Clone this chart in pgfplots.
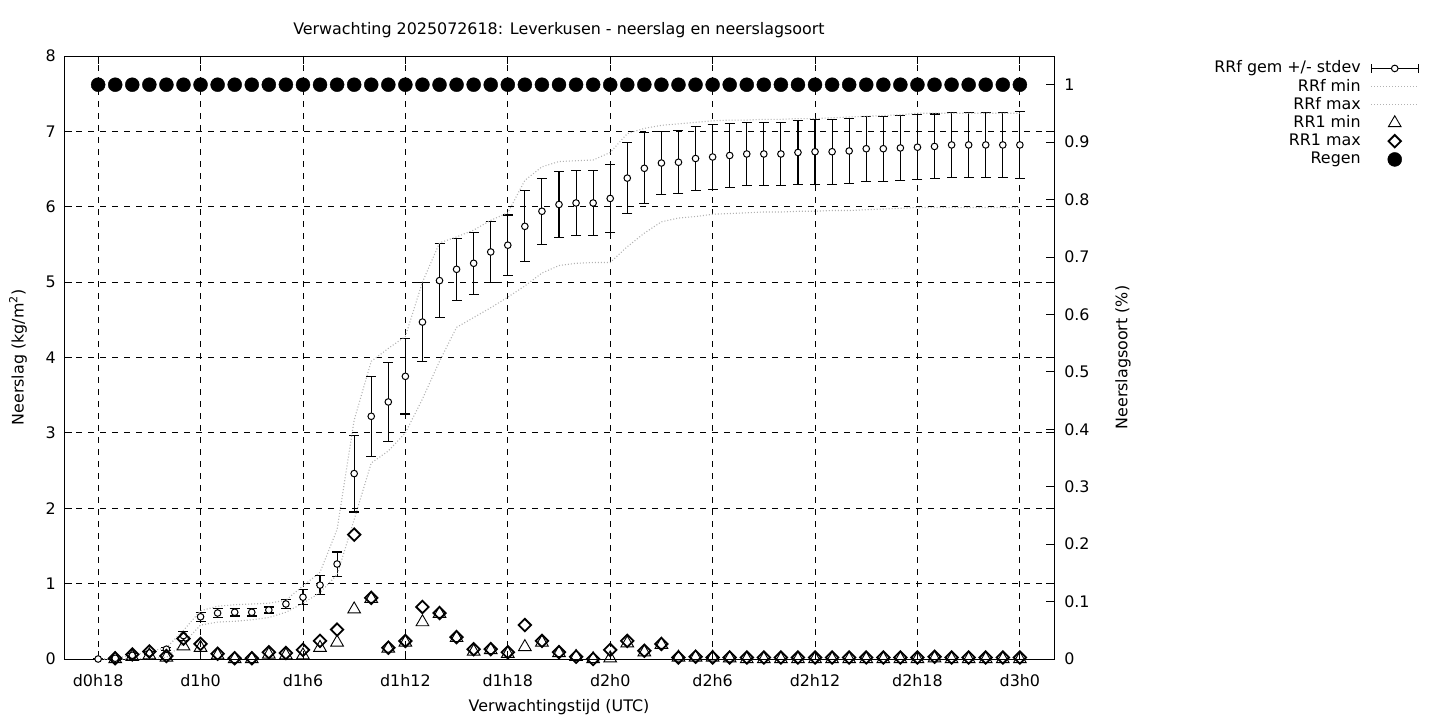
\documentclass[border=0pt]{standalone}
\usepackage{fontspec}
\setmainfont{DejaVu Sans}
\usepackage{pgfplots}
\usepackage{pgfplotstable}
\pgfplotsset{compat=1.18}

\pgfplotstableread{
h v e
0 0.00 0.00
1 0.01 0.01
2 0.05 0.02
3 0.08 0.02
4 0.13 0.02
5 0.31 0.06
6 0.56 0.06
7 0.61 0.06
8 0.62 0.05
9 0.62 0.05
10 0.65 0.04
11 0.73 0.06
12 0.82 0.10
13 0.98 0.13
14 1.26 0.16
15 2.46 0.51
16 3.22 0.53
17 3.41 0.52
18 3.75 0.50
19 4.47 0.52
20 5.02 0.49
21 5.17 0.41
22 5.25 0.41
23 5.40 0.41
24 5.49 0.40
25 5.74 0.47
26 5.94 0.44
27 6.03 0.44
28 6.05 0.43
29 6.05 0.43
30 6.11 0.45
31 6.38 0.47
32 6.51 0.47
33 6.58 0.42
34 6.59 0.42
35 6.64 0.42
36 6.66 0.43
37 6.68 0.42
38 6.70 0.42
39 6.70 0.42
40 6.70 0.42
41 6.72 0.43
42 6.73 0.43
43 6.73 0.43
44 6.74 0.43
45 6.77 0.43
46 6.77 0.43
47 6.78 0.43
48 6.79 0.43
49 6.80 0.43
50 6.82 0.43
51 6.82 0.43
52 6.82 0.43
53 6.82 0.43
54 6.82 0.44
}\meandata

\pgfplotstableread{
h lo hi
0 0 0
1 0 0.01
2 0 0.05
3 0.01 0.10
4 0.02 0.15
5 0.21 0.38
6 0.45 0.64
7 0.49 0.70
8 0.50 0.72
9 0.52 0.73
10 0.55 0.74
11 0.62 0.78
12 0.74 0.97
13 0.88 1.15
14 1.12 1.72
15 1.85 3.17
16 2.60 3.95
17 2.76 4.12
18 3.00 4.28
19 3.45 5.00
20 3.95 5.52
21 4.40 5.60
22 4.53 5.69
23 4.66 5.82
24 4.80 5.92
25 4.95 6.35
26 5.12 6.53
27 5.22 6.60
28 5.25 6.61
29 5.26 6.62
30 5.26 6.72
31 5.47 6.97
32 5.65 7.04
33 5.80 7.08
34 5.85 7.10
35 5.87 7.12
36 5.90 7.14
37 5.91 7.15
38 5.92 7.15
39 5.93 7.16
40 5.93 7.16
41 5.94 7.17
42 5.94 7.17
43 5.95 7.18
44 5.95 7.19
45 5.96 7.20
46 5.97 7.21
47 5.98 7.22
48 5.99 7.24
49 5.99 7.24
50 5.99 7.24
51 5.99 7.24
52 5.99 7.24
53 5.99 7.24
54 5.99 7.24
}\envdata

\pgfplotstableread{
h mn mx
1 0.00 0.01
2 0.03 0.06
3 0.05 0.10
4 0.02 0.04
5 0.17 0.27
6 0.15 0.20
7 0.05 0.07
8 0.00 0.01
9 0.00 0.01
10 0.06 0.09
11 0.05 0.08
12 0.05 0.12
13 0.15 0.24
14 0.22 0.39
15 0.66 1.65
16 0.80 0.81
17 0.14 0.15
18 0.22 0.24
19 0.49 0.69
20 0.60 0.61
21 0.28 0.29
22 0.10 0.13
23 0.12 0.13
24 0.07 0.09
25 0.16 0.45
26 0.22 0.24
27 0.08 0.09
28 0.03 0.03
29 0.00 0.00
30 0.01 0.12
31 0.21 0.24
32 0.09 0.11
33 0.19 0.20
34 0.02 0.02
35 0.02 0.03
36 0.02 0.02
37 0.01 0.02
38 0.00 0.02
39 0.00 0.02
40 0.00 0.02
41 0.00 0.02
42 0.00 0.02
43 0.00 0.02
44 0.00 0.02
45 0.00 0.02
46 0.00 0.02
47 0.00 0.02
48 0.00 0.02
49 0.01 0.03
50 0.00 0.02
51 0.00 0.02
52 0.00 0.02
53 0.00 0.02
54 0.00 0.02
}\rrdata

\pgfplotstableread{
h r
0 1
1 1
2 1
3 1
4 1
5 1
6 1
7 1
8 1
9 1
10 1
11 1
12 1
13 1
14 1
15 1
16 1
17 1
18 1
19 1
20 1
21 1
22 1
23 1
24 1
25 1
26 1
27 1
28 1
29 1
30 1
31 1
32 1
33 1
34 1
35 1
36 1
37 1
38 1
39 1
40 1
41 1
42 1
43 1
44 1
45 1
46 1
47 1
48 1
49 1
50 1
51 1
52 1
53 1
54 1
}\regendata

\begin{document}
\begin{tikzpicture}[font=\fontsize{15.9bp}{18bp}\selectfont]
\useasboundingbox (0bp,0bp) rectangle (1440bp,720bp);
\pgfplotsset{
  common/.style={
    scale only axis, width=990bp, height=603bp,
    at={(64bp,61bp)}, anchor=south west,
    xmin=-2, xmax=56, clip=false,
    tick align=inside, major tick length=8bp,
    every tick/.style={black, line width=0.9bp},
    axis line style={black, line width=0.9bp},
  }
}
\begin{axis}[common,
  ymin=0, ymax=8,
  xtick={0,6,12,18,24,30,36,42,48,54},
  xticklabels={d0h18,d1h0,d1h6,d1h12,d1h18,d2h0,d2h6,d2h12,d2h18,d3h0},
  ytick={0,1,2,3,4,5,6,7,8},
  yticklabels={0,1,2,3,4,5,6,7,8},
  xticklabel style={yshift=-11.5bp},
  yticklabel style={xshift=-4.8bp},
  grid=major,
  major grid style={black, line width=0.8bp, dash pattern=on 6bp off 6bp},
  title={Verwachting 2025072618: Leverkusen - neerslag en neerslagsoort},
  every axis title/.style={at={(axis description cs:0.5,1.0425)}, anchor=center},
  xlabel={Verwachtingstijd (UTC)},
  every axis x label/.style={at={(axis description cs:0.5,-0.079)}, anchor=center},
  ylabel={Neerslag (kg/m\textsuperscript{2})},
  every axis y label/.style={at={(axis description cs:-0.0465,0.5)}, rotate=90, anchor=center},
]
\addplot[black, only marks, mark=*, mark size=3.3bp,
  mark options={fill=white, line width=1bp},
  error bars/.cd, y dir=both, y explicit,
  error bar style={line width=1.1bp, black},
  error mark options={rotate=90, mark size=5bp, line width=1.1bp, black}]
  table[x=h, y=v, y error=e]{\meandata};
\addplot[gray!60, line width=1.1bp, dash pattern=on 1bp off 2bp] table[x=h, y=lo]{\envdata};
\addplot[gray!60, line width=1.1bp, dash pattern=on 1bp off 2bp] table[x=h, y=hi]{\envdata};
\addplot[black, only marks, mark=triangle, mark size=7.3bp, mark options={line width=0.9bp}]
  table[x=h, y=mn]{\rrdata};
\addplot[black, only marks, mark=square, mark size=4.4bp, mark options={rotate=45, line width=1.8bp}]
  table[x=h, y=mx]{\rrdata};
\end{axis}

\begin{axis}[common,
  ymin=0, ymax=1.05,
  axis y line*=right, axis x line=none,
  ytick={0,0.1,0.2,0.3,0.4,0.5,0.6,0.7,0.8,0.9,1},
  yticklabels={0,0.1,0.2,0.3,0.4,0.5,0.6,0.7,0.8,0.9,1},
  yticklabel style={xshift=6.8bp},
  ylabel={Neerslagsoort (\%)},
  every axis y label/.style={at={(axis description cs:1.0697,0.5)}, rotate=90, anchor=center},
  legend plot pos=right,
  legend cell align=right,
  legend style={at={(axis description cs:1.36869,0.99229)}, anchor=north east,
    draw=none, fill=none, inner sep=0pt, row sep=0bp, column sep=10bp,
    nodes={inner sep=0bp, text height=12bp, text depth=6.2bp}},
]
\addlegendimage{black, legend image code/.code={
  \path[draw=none, fill=none] (0bp,-6bp) rectangle (47bp,8bp);
  \draw[black, line width=1.1bp] (0bp,1.5bp) -- (47bp,1.5bp);
  \draw[black, line width=1.1bp] (0bp,-3bp) -- (0bp,6bp) (47bp,-3bp) -- (47bp,6bp);
  \draw[black, line width=1bp, fill=white] (23.5bp,1.5bp) circle (3.3bp);}}
\addlegendentry{RRf gem +/- stdev}
\addlegendimage{gray!60, line width=1.1bp, dash pattern=on 1bp off 2bp, legend image code/.code={
  \path[draw=none, fill=none] (0bp,-6bp) rectangle (47bp,8bp);
  \draw (0bp,1.5bp) -- (47bp,1.5bp);}}
\addlegendentry{RRf min}
\addlegendimage{gray!60, line width=1.1bp, dash pattern=on 1bp off 2bp, legend image code/.code={
  \path[draw=none, fill=none] (0bp,-6bp) rectangle (47bp,8bp);
  \draw (0bp,1.5bp) -- (47bp,1.5bp);}}
\addlegendentry{RRf max}
\addlegendimage{black, only marks, mark=triangle, mark size=7.3bp, mark options={line width=0.9bp}, legend image code/.code={
  \path[draw=none, fill=none] (0bp,-6bp) rectangle (47bp,8bp);
  \draw plot[only marks] coordinates {(23.5bp,1.5bp)};}}
\addlegendentry{RR1 min}
\addlegendimage{black, only marks, mark=square, mark size=4.4bp, mark options={rotate=45, line width=1.8bp}, legend image code/.code={
  \path[draw=none, fill=none] (0bp,-6bp) rectangle (47bp,8bp);
  \draw plot[only marks] coordinates {(23.5bp,1.5bp)};}}
\addlegendentry{RR1 max}
\addplot[black, only marks, mark=*, mark size=7bp, legend image code/.code={
  \path[draw=none, fill=none] (0bp,-6bp) rectangle (47bp,8bp);
  \fill[black] (23.5bp,1.5bp) circle (7bp);}]
  table[x=h, y=r]{\regendata};
\addlegendentry{Regen}
\end{axis}
\end{tikzpicture}
\end{document}
